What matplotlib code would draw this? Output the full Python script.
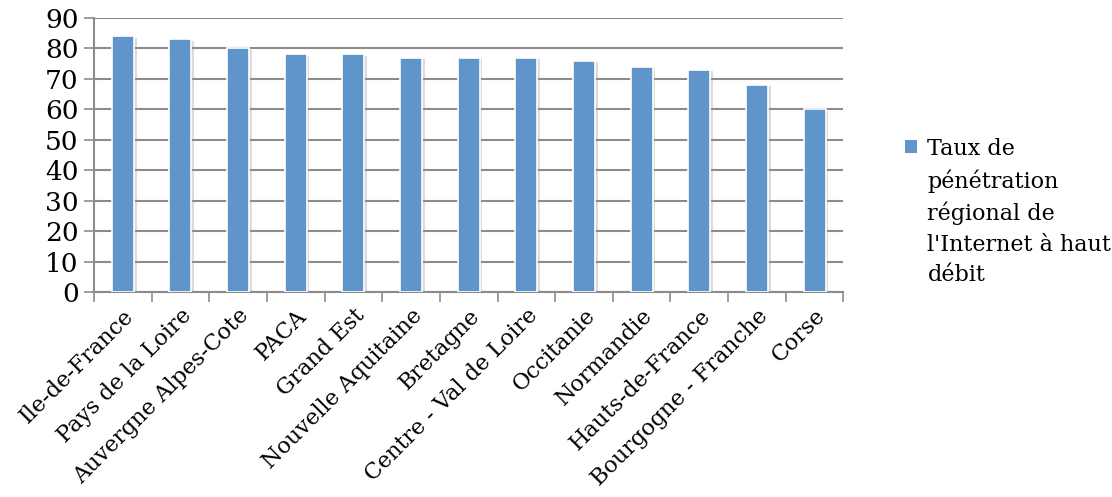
import matplotlib.pyplot as plt
import matplotlib.patheffects as pe
from matplotlib.patches import Rectangle
from matplotlib.legend_handler import HandlerPatch
import numpy as np

regions = ['Ile-de-France', 'Pays de la Loire', 'Auvergne Alpes-Cote', 'PACA',
           'Grand Est', 'Nouvelle Aquitaine', 'Bretagne', 'Centre - Val de Loire',
           'Occitanie', 'Normandie', 'Hauts-de-France', 'Bourgogne - Franche', 'Corse']
taux = [84, 83, 80, 78, 78, 77, 77, 77, 76, 74, 73, 68, 60]
legend_label = "Taux de\npénétration\nrégional de\nl'Internet à haut\ndébit"

bar_color = '#5F95CA'
leg_size = 16
leg_spacing = 1.5


# square on the first line of the legend text, not in the middle
class TopSquare(HandlerPatch):
    def create_artists(self, legend, orig_handle, xdescent, ydescent, width, height, fontsize, trans):
        shift = 2 * fontsize * leg_spacing * 0.93 + 3
        p = Rectangle((-xdescent, -ydescent + shift), width, height,
                      facecolor=bar_color, edgecolor='none', transform=trans)
        return [p]


plt.rcParams['font.family'] = ['DejaVu Serif']
fig = plt.figure(figsize=(11.12, 4.97), dpi=100)
ax = fig.add_axes([0.0845, 0.412, 0.674, 0.552])

x = np.arange(len(regions))
bars = ax.bar(x, taux, width=0.38, color=bar_color, edgecolor='white', linewidth=1.2,
              label=legend_label, zorder=3)
for b in bars:
    b.set_path_effects([pe.SimplePatchShadow(offset=(2, -1), shadow_rgbFace='#999999', alpha=0.35),
                        pe.Normal()])

ax.set_xlim(-0.5, len(regions) - 0.5)
ax.set_ylim(0, 90)
ax.set_yticks(range(0, 91, 10))
ax.yaxis.grid(True, color='#8C8C8C', linewidth=1.5, zorder=0)
ax.set_axisbelow(True)

ax.set_xticks(x)
ax.set_xticklabels(regions, rotation=45, ha='right', rotation_mode='anchor', fontsize=16)
ax.tick_params(axis='x', length=0, pad=9)
ax.set_xticks(np.arange(-0.5, len(regions)), minor=True)
ax.tick_params(axis='x', which='minor', length=7, width=1.2, color='#8C8C8C', direction='out')
ax.tick_params(axis='y', length=7, width=1.2, color='#8C8C8C', labelsize=19, pad=4)

for s in ['top', 'right']:
    ax.spines[s].set_visible(False)
for s in ['left', 'bottom']:
    ax.spines[s].set_color('#8C8C8C')
    ax.spines[s].set_linewidth(1.5)

leg = fig.legend(handles=[bars.patches[0]], labels=[legend_label],
                 handler_map={bars.patches[0]: TopSquare()},
                 loc='center left', bbox_to_anchor=(0.814, 0.573), frameon=False,
                 fontsize=leg_size, handlelength=0.55, handleheight=0.55, handletextpad=0.45,
                 borderpad=0, borderaxespad=0)
leg.get_texts()[0].set_linespacing(leg_spacing)

fig.savefig('out.png', dpi=100)
